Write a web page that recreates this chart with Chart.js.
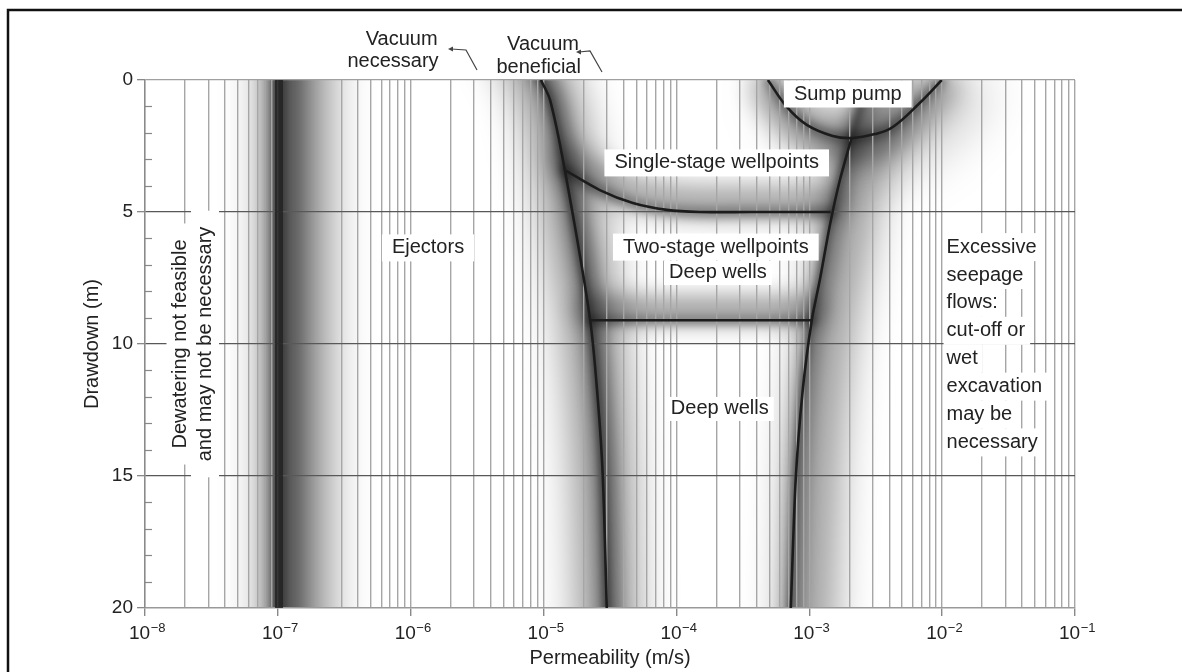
<!DOCTYPE html>
<html><head><meta charset="utf-8">
<script src="https://cdn.jsdelivr.net/npm/chart.js@4/dist/chart.umd.min.js"></script>
<style>html,body{margin:0;padding:0;background:#fff}#wrap{width:1182px;height:672px;position:relative}</style>
</head><body><div id="wrap"><canvas id="c" width="1182" height="672"></canvas></div>
<script>
// ---- axis ticks ----
const xDecadeExponents = [-8, -7, -6, -5, -4, -3, -2, -1];
const xMinorMultipliers = [2, 3, 4, 5, 6, 7, 8, 9];
const yTickValues = [0,1,2,3,4,5,6,7,8,9,10,11,12,13,14,15,16,17,18,19,20];
const yLabeledTicks = [0, 5, 10, 15, 20];

// ---- boundary curves (permeability m/s, drawdown m) ----
const lowLimitK = [1.02e-7, 1.02e-7];
const lowLimitD = [0, 20];
const ejectorBoundaryK = [9.55e-6, 1.12e-5, 1.445e-5, 2.23e-5, 2.56e-5, 2.79e-5, 2.99e-5];
const ejectorBoundaryD = [0, 0.76, 3.41, 9.0, 12.1, 15.0, 20.0];
const deepWellBoundaryK = [2.09e-3, 1.70e-3, 1.43e-3, 1.20e-3, 1.045e-3, 8.93e-4, 7.90e-4, 7.26e-4];
const deepWellBoundaryD = [2.16, 3.79, 5.49, 7.58, 9.09, 11.74, 15.15, 20.0];
const singleStageK = [1.445e-5, 2.65e-5, 4.70e-5, 8.47e-5, 1.50e-4, 3.56e-4, 1.45e-3];
const singleStageD = [3.41, 4.17, 4.66, 4.92, 5.0, 5.0, 5.0];
const twoStageK = [2.23e-5, 1.05e-3];
const twoStageD = [9.1, 9.1];
const sumpPumpK = [4.88e-4, 6.78e-4, 9.57e-4, 1.50e-3, 2.09e-3, 3.11e-3, 4.25e-3, 6.78e-3, 9.93e-3];
const sumpPumpD = [0, 1.02, 1.70, 2.12, 2.2, 2.05, 1.78, 0.87, 0];

// ---- region labels ----
const regionLabelText = ['Sump pump', 'Single-stage wellpoints', 'Two-stage wellpoints', 'Deep wells', 'Deep wells', 'Ejectors'];
const regionLabelK = [1.95e-3, 2.01e-4, 1.98e-4, 2.05e-4, 2.12e-4, 1.35e-6];
const regionLabelD = [0.53, 3.14, 6.33, 7.31, 12.46, 6.36];
const excessiveLines = ['Excessive', 'seepage', 'flows:', 'cut-off or', 'wet', 'excavation', 'may be', 'necessary'];
const dewateringLines = ['Dewatering not feasible', 'and may not be necessary'];

const FONT = "'Liberation Sans', Arial, Helvetica, sans-serif";

const xTickValues = [];
xDecadeExponents.forEach((e, i) => {
  xTickValues.push(Math.pow(10, e));
  if (i < xDecadeExponents.length - 1) xMinorMultipliers.forEach(m => xTickValues.push(m * Math.pow(10, e)));
});
function isDecade(v) { const l = Math.log10(v); return Math.abs(l - Math.round(l)) < 1e-9; }
function pts(ks, ds) { return ks.map((k, i) => ({x: k, y: ds[i]})); }

const glowPlugin = {
  id: 'glow',
  beforeDraw(chart) {
    const ctx = chart.ctx, a = chart.chartArea;
    ctx.save();
    ctx.beginPath(); ctx.rect(a.left, a.top, a.right - a.left, a.bottom - a.top); ctx.clip();
    chart.data.datasets.forEach((ds, di) => {
      if (!ds.glow) return;
      const meta = chart.getDatasetMeta(di);
      const line = meta.dataset;
      const tens = ds.tension > 0;
      if (tens) line.updateControlPoints(a, 'x');
      const p = meta.data;
      const n = p.length, ext = ds.glowExtend || 0;
      ds.glow.forEach(g => {
        ctx.save();
        ctx.filter = 'blur(' + g.blur + 'px)';
        ctx.translate(g.dx || 0, g.dy || 0);
        ctx.strokeStyle = 'rgba(0,0,0,' + g.alpha + ')';
        ctx.lineWidth = g.width;
        ctx.lineCap = 'round'; ctx.lineJoin = 'round';
        ctx.beginPath();
        const p0 = p[0], p1 = p[1], pn = p[n - 1], pm = p[n - 2];
        let dx0 = p0.x - p1.x, dy0 = p0.y - p1.y, l0 = Math.hypot(dx0, dy0) || 1;
        let dxn = pn.x - pm.x, dyn = pn.y - pm.y, ln = Math.hypot(dxn, dyn) || 1;
        ctx.moveTo(p0.x + dx0 / l0 * ext, p0.y + dy0 / l0 * ext);
        ctx.lineTo(p0.x, p0.y);
        for (let i = 1; i < n; i++) {
          const q = p[i - 1], r = p[i];
          if (tens) ctx.bezierCurveTo(q.cp2x, q.cp2y, r.cp1x, r.cp1y, r.x, r.y);
          else ctx.lineTo(r.x, r.y);
        }
        ctx.lineTo(pn.x + dxn / ln * ext, pn.y + dyn / ln * ext);
        ctx.stroke();
        ctx.restore();
      });
    });
    ctx.restore();
  }
};

function boxText(ctx, text, cx, cy, padL, padR, h) {
  const w = ctx.measureText(text).width;
  ctx.fillStyle = '#fff';
  ctx.fillRect(cx - w / 2 - padL, cy - h / 2, w + padL + padR, h);
  ctx.fillStyle = '#222';
  ctx.fillText(text, cx, cy);
}

const annotPlugin = {
  id: 'annot',
  afterDraw(chart) {
    const ctx = chart.ctx, xs = chart.scales.x, ys = chart.scales.y, a = chart.chartArea;
    ctx.save();
    // minor y ticks inside
    ctx.strokeStyle = '#888'; ctx.lineWidth = 1.2;
    yTickValues.forEach(v => {
      if (yLabeledTicks.includes(v)) return;
      const y = Math.round(ys.getPixelForValue(v)) + 0.5;
      ctx.beginPath(); ctx.moveTo(a.left, y); ctx.lineTo(a.left + 7, y); ctx.stroke();
    });
    // x decade labels with superscript exponents
    ctx.fillStyle = '#222'; ctx.textBaseline = 'alphabetic'; ctx.textAlign = 'left';
    xDecadeExponents.forEach(e => {
      const x = xs.getPixelForValue(Math.pow(10, e));
      ctx.font = '19px ' + FONT;
      const wb = ctx.measureText('10').width;
      const es = '\u2212' + Math.abs(e);
      ctx.font = '13px ' + FONT;
      const we = ctx.measureText(es).width;
      const x0 = x - (wb + we) / 2 + 2;
      ctx.font = '19px ' + FONT; ctx.fillText('10', x0, 639);
      ctx.font = '13px ' + FONT; ctx.fillText(es, x0 + wb + 0.5, 632);
    });
    ctx.font = '20px ' + FONT;
    ctx.textAlign = 'center'; ctx.textBaseline = 'middle';
    regionLabelText.forEach((t, i) => {
      const x = xs.getPixelForValue(regionLabelK[i]), y = ys.getPixelForValue(regionLabelD[i]);
      const pad = t === 'Deep wells' ? 5 : 10;
      boxText(ctx, t, x, y, pad, pad, t === 'Deep wells' ? 24 : 27);
    });
    // Excessive seepage block
    ctx.textAlign = 'left';
    const ex = xs.getPixelForValue(1.08e-2);
    const ey0 = ys.getPixelForValue(6.33);
    excessiveLines.forEach((t, i) => {
      const y = ey0 + i * 27.9;
      const w = ctx.measureText(t).width;
      ctx.fillStyle = '#fff'; ctx.fillRect(ex - 3, y - 14, w + 8, 28);
    });
    excessiveLines.forEach((t, i) => {
      const y = ey0 + i * 27.9;
      ctx.fillStyle = '#222'; ctx.fillText(t, ex, y);
    });
    // Dewatering rotated
    const dcy = ys.getPixelForValue(10);
    const dx1 = xs.getPixelForValue(1.85e-8), dx2 = xs.getPixelForValue(2.83e-8);
    [dx1, dx2].forEach((x, i) => {
      ctx.save();
      ctx.translate(x, dcy); ctx.rotate(-Math.PI / 2);
      ctx.textAlign = 'center';
      const w = ctx.measureText(dewateringLines[i]).width;
      ctx.fillStyle = '#fff'; ctx.fillRect(-w / 2 - 16, -14, w + 32, 28);
      ctx.restore();
    });
    [dx1, dx2].forEach((x, i) => {
      ctx.save();
      ctx.translate(x, dcy); ctx.rotate(-Math.PI / 2);
      ctx.textAlign = 'center'; ctx.fillStyle = '#222';
      ctx.fillText(dewateringLines[i], 0, 0);
      ctx.restore();
    });
    // Vacuum labels above plot
    ctx.textAlign = 'right'; ctx.textBaseline = 'alphabetic'; ctx.fillStyle = '#222';
    const vx1 = xs.getPixelForValue(1.62e-6), vx2 = xs.getPixelForValue(1.91e-5);
    ctx.fillText('Vacuum', vx1 - 1, 45); ctx.fillText('necessary', vx1, 67);
    ctx.fillText('Vacuum', vx2 - 2, 50); ctx.fillText('beneficial', vx2, 73);
    // leader arrows
    ctx.strokeStyle = '#444'; ctx.lineWidth = 1.2; ctx.fillStyle = '#444';
    const arrows = [[[477, 70], [466, 50], [451, 49]], [[602, 72], [590, 51], [579, 52]]];
    arrows.forEach(ar => {
      ctx.beginPath(); ctx.moveTo(ar[0][0], ar[0][1]); ctx.lineTo(ar[1][0], ar[1][1]); ctx.lineTo(ar[2][0], ar[2][1]); ctx.stroke();
      ctx.beginPath(); ctx.moveTo(ar[2][0] - 3, ar[2][1]); ctx.lineTo(ar[2][0] + 2, ar[2][1] - 2.5); ctx.lineTo(ar[2][0] + 2, ar[2][1] + 2.5); ctx.closePath(); ctx.fill();
    });
    // outer frame (top and left edges)
    ctx.strokeStyle = '#111'; ctx.lineWidth = 2.5;
    ctx.beginPath(); ctx.moveTo(8, 700); ctx.lineTo(8, 10); ctx.lineTo(1190, 10); ctx.stroke();
    ctx.restore();
  }
};

const coreColor = '#1c1c1c';
new Chart(document.getElementById('c'), {
  type: 'line',
  data: {
    datasets: [
      {label: 'Lower limit', data: pts(lowLimitK, lowLimitD), borderColor: 'rgba(35,35,35,0.85)', borderWidth: 8, tension: 0, glowExtend: 80,
       glow: [{blur: 24, width: 50, alpha: 0.6, dx: 18}, {blur: 12, width: 26, alpha: 0.55, dx: 6}, {blur: 4, width: 12, alpha: 0.5}]},
      {label: 'Ejector boundary', data: pts(ejectorBoundaryK, ejectorBoundaryD), borderColor: coreColor, borderWidth: 2.6, tension: 0.3, glowExtend: 60,
       glow: [{blur: 22, width: 50, alpha: 0.5}, {blur: 8, width: 18, alpha: 0.45, dx: 3}, {blur: 3, width: 7, alpha: 0.4}]},
      {label: 'Deep well boundary', data: pts(deepWellBoundaryK, deepWellBoundaryD), borderColor: coreColor, borderWidth: 2.6, tension: 0.25, glowExtend: 60,
       glow: [{blur: 22, width: 40, alpha: 0.5, dx: 18}, {blur: 8, width: 16, alpha: 0.45, dx: 3}, {blur: 3, width: 6, alpha: 0.4}]},
      {label: 'Single-stage limit', data: pts(singleStageK, singleStageD), borderColor: coreColor, borderWidth: 2.6, tension: 0.3, glowExtend: 0,
       glow: [{blur: 14, width: 26, alpha: 0.45, dy: -10}, {blur: 5, width: 10, alpha: 0.4}]},
      {label: 'Two-stage limit', data: pts(twoStageK, twoStageD), borderColor: coreColor, borderWidth: 2.6, tension: 0, glowExtend: 0,
       glow: [{blur: 12, width: 24, alpha: 0.45, dy: -10}, {blur: 4, width: 8, alpha: 0.4}]},
      {label: 'Sump pump limit', data: pts(sumpPumpK, sumpPumpD), borderColor: coreColor, borderWidth: 2.6, tension: 0.4, glowExtend: 0,
       glow: [{blur: 26, width: 40, alpha: 0.25, dx: 22, dy: 14}, {blur: 14, width: 28, alpha: 0.45, dy: 6}, {blur: 5, width: 9, alpha: 0.4}]}
    ]
  },
  options: {
    responsive: false, devicePixelRatio: 1, animation: false, events: [],
    layout: {padding: {left: 76, right: 107, top: 80, bottom: 0}},
    plugins: {legend: {display: false}, tooltip: {enabled: false}},
    elements: {point: {radius: 0}},
    scales: {
      x: {
        type: 'logarithmic', min: 1e-8, max: 1e-1,
        afterBuildTicks: s => { s.ticks = xTickValues.map(v => ({value: v})); },
        afterFit: s => { s.height = 64; },
        ticks: {autoSkip: false, maxRotation: 0, padding: 3, color: '#222', font: {size: 19, family: FONT},
          callback: () => ''},
        grid: {color: '#a6a6a6', lineWidth: 1.4, tickLength: 8,
          tickColor: c => (c.tick && isDecade(c.tick.value)) ? '#888' : 'rgba(0,0,0,0)'},
        border: {display: true, color: '#999', width: 1.4},
        title: {display: true, text: 'Permeability (m/s)', color: '#222', font: {size: 20, family: FONT}, padding: {top: 0, bottom: 2}}
      },
      y: {
        type: 'linear', reverse: true, min: 0, max: 20,
        afterBuildTicks: s => { s.ticks = yTickValues.map(v => ({value: v})); },
        afterFit: s => { s.width = 69; },
        ticks: {autoSkip: false, padding: 4, color: '#222', font: {size: 19, family: FONT},
          callback: v => yLabeledTicks.includes(v) ? String(v) : ''},
        grid: {lineWidth: 1.3, tickLength: 8,
          color: c => { const v = c.tick ? c.tick.value : -1; if (v === 5 || v === 10 || v === 15) return '#585858'; if (v === 0) return '#a0a0a0'; return 'rgba(0,0,0,0)'; },
          tickColor: c => (c.tick && yLabeledTicks.includes(c.tick.value)) ? '#888' : 'rgba(0,0,0,0)'},
        border: {display: true, color: '#8a8a8a', width: 1.4},
        title: {display: true, text: 'Drawdown (m)', color: '#222', font: {size: 20, family: FONT}, padding: {top: 4, bottom: 0}}
      }
    }
  },
  plugins: [glowPlugin, annotPlugin]
});
</script></body></html>
